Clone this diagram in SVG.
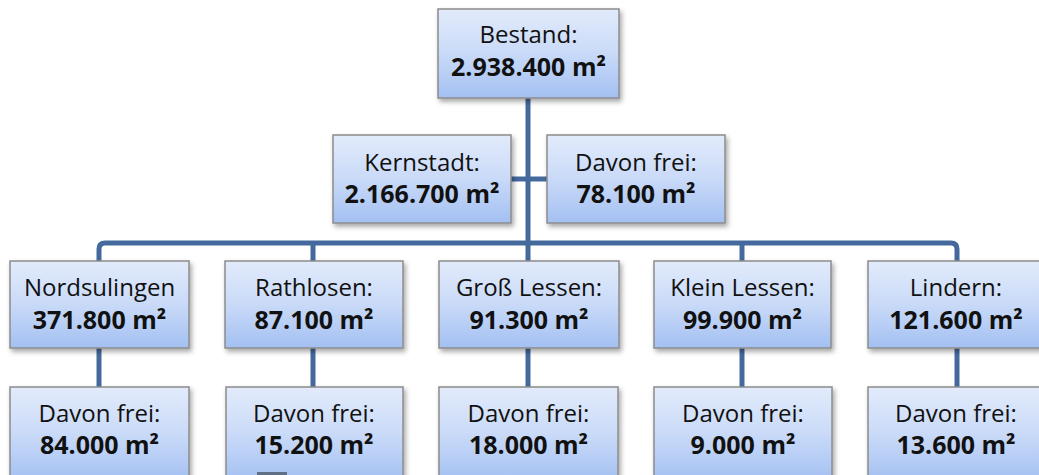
<svg xmlns="http://www.w3.org/2000/svg" width="1039" height="475" viewBox="0 0 1039 475">
  <defs>
    <linearGradient id="boxGrad" x1="0" y1="0" x2="0" y2="1">
      <stop offset="0" stop-color="#E2EBFB"/>
      <stop offset="0.5" stop-color="#C9DAF8"/>
      <stop offset="1" stop-color="#A3C0F2"/>
    </linearGradient>
    <filter id="shadow" x="-10%" y="-10%" width="125%" height="130%">
      <feDropShadow dx="2" dy="3" stdDeviation="2.5" flood-color="#000" flood-opacity="0.35"/>
    </filter>
  </defs>
  <style>
    .box { fill: url(#boxGrad); stroke: #8C8C8C; stroke-width: 1.5; filter: url(#shadow); }
    .t1 { font-family: "Open Sans", "Liberation Sans", sans-serif; font-size: 24px; fill: #111; text-anchor: middle; }
    .t2 { font-family: "Open Sans", "Liberation Sans", sans-serif; font-size: 25px; font-weight: bold; fill: #111; text-anchor: middle; }
    .conn { fill: none; stroke: #44699C; stroke-width: 5; stroke-linejoin: round; }
  </style>
  <rect width="1039" height="475" fill="#FFFFFF"/>

  <g id="connectors">
    <path class="conn" d="M528,98 V261"/>
    <path class="conn" d="M511,179 H547"/>
    <path class="conn" d="M99,261 V249 Q99,243 105,243 H951 Q957,243 957,249 V261"/>
    <path class="conn" d="M313,243 V261"/>
    <path class="conn" d="M742,243 V261"/>
    <path class="conn" d="M99,348 V387"/>
    <path class="conn" d="M313,348 V387"/>
    <path class="conn" d="M528,348 V387"/>
    <path class="conn" d="M742,348 V387"/>
    <path class="conn" d="M957,348 V387"/>
  </g>

  <g id="bestand">
    <rect class="box" x="438" y="9" width="181" height="89"/>
    <text class="t1" x="528.5" y="43">Bestand:</text>
    <text class="t2" x="528.5" y="76">2.938.400 m²</text>
  </g>
  <g id="kernstadt">
    <rect class="box" x="333" y="135" width="178" height="88"/>
    <text class="t1" x="422" y="171">Kernstadt:</text>
    <text class="t2" x="422" y="203">2.166.700 m²</text>
  </g>
  <g id="kernstadt-frei">
    <rect class="box" x="547" y="135" width="178" height="88"/>
    <text class="t1" x="636" y="171">Davon frei:</text>
    <text class="t2" x="636" y="203">78.100 m²</text>
  </g>

  <g id="nordsulingen">
    <rect class="box" x="10" y="261" width="179" height="87"/>
    <text class="t1" x="99.5" y="296">Nordsulingen</text>
    <text class="t2" x="99.5" y="329">371.800 m²</text>
  </g>
  <g id="rathlosen">
    <rect class="box" x="225" y="261" width="178" height="87"/>
    <text class="t1" x="314" y="296">Rathlosen:</text>
    <text class="t2" x="314" y="329">87.100 m²</text>
  </g>
  <g id="gross-lessen">
    <rect class="box" x="439" y="261" width="180" height="87"/>
    <text class="t1" x="529" y="296">Groß Lessen:</text>
    <text class="t2" x="529" y="329">91.300 m²</text>
  </g>
  <g id="klein-lessen">
    <rect class="box" x="654" y="261" width="177" height="87"/>
    <text class="t1" x="742.5" y="296">Klein Lessen:</text>
    <text class="t2" x="742.5" y="329">99.900 m²</text>
  </g>
  <g id="lindern">
    <rect class="box" x="868" y="261" width="178" height="87"/>
    <text class="t1" x="956" y="296">Lindern:</text>
    <text class="t2" x="956" y="329">121.600 m²</text>
  </g>

  <g id="nordsulingen-frei">
    <rect class="box" x="10" y="387" width="179" height="95"/>
    <text class="t1" x="99.5" y="422">Davon frei:</text>
    <text class="t2" x="99.5" y="454">84.000 m²</text>
  </g>
  <g id="rathlosen-frei">
    <rect class="box" x="226" y="387" width="177" height="95"/>
    <text class="t1" x="314" y="422">Davon frei:</text>
    <text class="t2" x="314" y="454">15.200 m²</text>
    <rect x="257" y="472" width="30" height="3" fill="#5F6F86"/>
  </g>
  <g id="gross-lessen-frei">
    <rect class="box" x="439" y="387" width="179" height="95"/>
    <text class="t1" x="528.5" y="422">Davon frei:</text>
    <text class="t2" x="528.5" y="454">18.000 m²</text>
  </g>
  <g id="klein-lessen-frei">
    <rect class="box" x="654" y="387" width="178" height="95"/>
    <text class="t1" x="743" y="422">Davon frei:</text>
    <text class="t2" x="743" y="454">9.000 m²</text>
  </g>
  <g id="lindern-frei">
    <rect class="box" x="868" y="387" width="178" height="95"/>
    <text class="t1" x="956" y="422">Davon frei:</text>
    <text class="t2" x="956" y="454">13.600 m²</text>
  </g>
</svg>
